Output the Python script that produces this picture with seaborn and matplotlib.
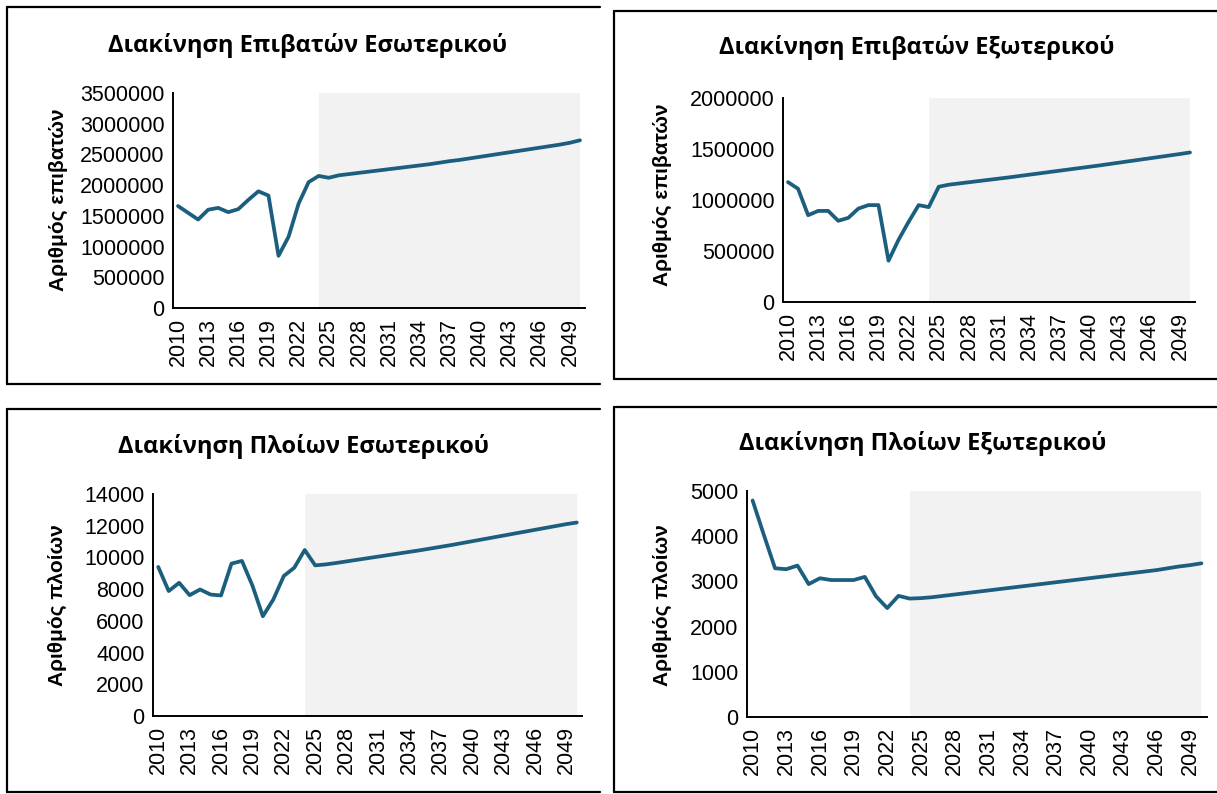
import numpy as np
import pandas as pd
import matplotlib
matplotlib.use("Agg")
import matplotlib.pyplot as plt
from matplotlib.lines import Line2D
import seaborn as sns

years = list(range(2010, 2051))
tick_years = [2010, 2013, 2016, 2019, 2022, 2025, 2028, 2031, 2034, 2037, 2040, 2043, 2046, 2049]
forecast_start = 2024

pax_dom = [1660000, 1550000, 1440000, 1600000, 1630000, 1560000, 1610000, 1760000, 1900000, 1830000,
           850000, 1160000, 1700000, 2050000, 2150000, 2120000, 2160000, 2180000, 2200000, 2220000,
           2240000, 2260000, 2280000, 2300000, 2320000, 2340000, 2365000, 2390000, 2410000, 2435000,
           2460000, 2485000, 2510000, 2535000, 2560000, 2585000, 2610000, 2635000, 2660000, 2690000,
           2730000]
pax_int = [1175000, 1110000, 851000, 893000, 893000, 796000, 825000, 916000, 950000, 950000,
           405000, 610000, 786000, 950000, 930000, 1130000, 1150000, 1162000, 1174000, 1186000,
           1198000, 1210000, 1222000, 1235000, 1248000, 1261000, 1274000, 1287000, 1300000, 1313000,
           1326000, 1339000, 1353000, 1367000, 1381000, 1395000, 1409000, 1423000, 1437000, 1451000,
           1466000]
ship_dom = [9400, 7880, 8400, 7620, 7980, 7660, 7600, 9610, 9780, 8230,
            6290, 7350, 8830, 9350, 10470, 9500, 9560, 9650, 9750, 9850,
            9950, 10050, 10150, 10250, 10350, 10450, 10560, 10670, 10780, 10900,
            11020, 11140, 11260, 11380, 11500, 11620, 11740, 11860, 11980, 12100,
            12200]
ship_int = [4790, 4030, 3290, 3270, 3350, 2940, 3070, 3030, 3030, 3030,
            3100, 2670, 2410, 2680, 2620, 2630, 2650, 2680, 2710, 2740,
            2770, 2800, 2830, 2860, 2890, 2920, 2950, 2980, 3010, 3040,
            3070, 3100, 3130, 3160, 3190, 3220, 3250, 3290, 3330, 3360,
            3400]

titles = ["Διακίνηση Επιβατών Εσωτερικού", "Διακίνηση Επιβατών Εξωτερικού",
          "Διακίνηση Πλοίων Εσωτερικού", "Διακίνηση Πλοίων Εξωτερικού"]
ylabels = ["Αριθμός επιβατών", "Αριθμός επιβατών", "Αριθμός πλοίων", "Αριθμός πλοίων"]
yticks = [[0, 500000, 1000000, 1500000, 2000000, 2500000, 3000000, 3500000],
          [0, 500000, 1000000, 1500000, 2000000],
          [0, 2000, 4000, 6000, 8000, 10000, 12000, 14000],
          [0, 1000, 2000, 3000, 4000, 5000]]
series = [pax_dom, pax_int, ship_dom, ship_int]

sns.set_theme(style="white")
plt.rcParams["font.family"] = ["Liberation Sans", "DejaVu Sans"]
plt.rcParams["text.color"] = "black"
plt.rcParams["xtick.color"] = "black"
plt.rcParams["ytick.color"] = "black"

W, H = 1217, 794
fig = plt.figure(figsize=(W / 100, H / 100), dpi=100)

# pixel layout of each panel: frame (l, t, r, b), axes (l, t, r, b), title centre, ylabel centre
panels = [
    dict(frame=(7, 7, 600, 384), ax=(173, 93, 585, 308), title=(308, 45), ylab=(58, 200)),
    dict(frame=(614, 11, 1217, 379), ax=(783, 98, 1195, 302), title=(917, 48), ylab=(662, 195)),
    dict(frame=(7, 409, 600, 792), ax=(153, 494, 582, 716), title=(303, 446), ylab=(57, 605)),
    dict(frame=(614, 407, 1217, 792), ax=(747, 491, 1207, 717), title=(923, 443), ylab=(662, 605)),
]

line_color = "#1b5e7e"

for p, vals, title, ylab, yt in zip(panels, series, titles, ylabels, yticks):
    fl, ft, fr, fb = p["frame"]
    for xs, ys in [((fl, fr), (ft, ft)), ((fl, fl), (ft, fb)), ((fl, fr), (fb, fb))]:
        fig.add_artist(Line2D([x / W for x in xs], [1 - y / H for y in ys],
                              color="black", lw=1.6, transform=fig.transFigure))

    l, t, r, b = p["ax"]
    ax = fig.add_axes([l / W, 1 - b / H, (r - l) / W, (b - t) / H])
    df = pd.DataFrame({"year": years, "value": vals})
    ax.axvspan(forecast_start, years[-1], color="#f2f2f2", lw=0, zorder=0)
    sns.lineplot(data=df, x="year", y="value", ax=ax, color=line_color, lw=2.7, zorder=3)

    ax.set_xlim(years[0] - 0.5, years[-1] + 0.5)
    ax.set_ylim(yt[0], yt[-1])
    ax.set_xticks(tick_years)
    ax.set_xticklabels([str(y) for y in tick_years], rotation=90, fontsize=15.5, color="black")
    ax.set_yticks(yt)
    ax.set_yticklabels([str(v) for v in yt], fontsize=15.5, color="black")
    ax.tick_params(axis="y", length=0, pad=6)
    ax.tick_params(axis="x", length=0, pad=7)
    ax.set_xlabel("")
    ax.set_ylabel("")
    for s in ["top", "right"]:
        ax.spines[s].set_visible(False)
    for s in ["left", "bottom"]:
        ax.spines[s].set_color("black")
        ax.spines[s].set_linewidth(1.4)
    ax.set_facecolor("white")

    fig.text(p["title"][0] / W, 1 - p["title"][1] / H, title, ha="center", va="center",
             fontsize=17, fontweight="bold", color="black", family=["Open Sans", "DejaVu Sans"])
    fig.text(p["ylab"][0] / W, 1 - p["ylab"][1] / H, ylab, ha="center", va="center",
             rotation=90, fontsize=15, fontweight="bold", color="black",
             family=["Liberation Sans", "DejaVu Sans"])

fig.savefig("out.png", dpi=100)
